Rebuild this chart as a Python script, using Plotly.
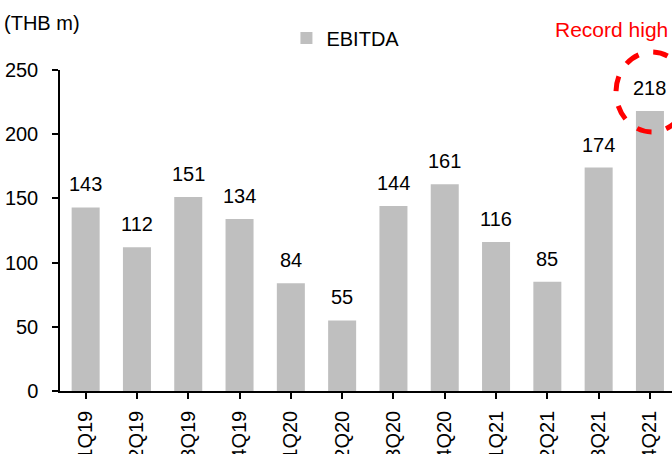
import plotly.graph_objects as go

quarters = ["1Q19", "2Q19", "3Q19", "4Q19", "1Q20", "2Q20",
            "3Q20", "4Q20", "1Q21", "2Q21", "3Q21", "4Q21"]
ebitda = [143, 112, 151, 134, 84, 55, 144, 161, 116, 85, 174, 218]
y_ticks = [0, 50, 100, 150, 200, 250]

FONT = "Arial, Liberation Sans, sans-serif"
BAR_GRAY = "#BFBFBF"

fig = go.Figure()
fig.add_trace(go.Bar(
    x=list(range(len(quarters))),
    y=ebitda,
    name="EBITDA",
    marker=dict(color=BAR_GRAY, line=dict(width=0)),
))

# value labels above each bar
for i, v in enumerate(ebitda):
    fig.add_annotation(x=i, y=v, text=str(v), showarrow=False,
                       xref="x", yref="y", yanchor="bottom", yshift=10,
                       font=dict(family=FONT, size=20, color="black"))

fig.add_annotation(text="(THB m)", xref="paper", yref="paper",
                   x=-0.094, y=1.146, xanchor="left", yanchor="middle",
                   showarrow=False, font=dict(family=FONT, size=20, color="black"))
fig.add_annotation(text="Record high", xref="paper", yref="paper",
                   x=0.806, y=1.125, xanchor="left", yanchor="middle",
                   showarrow=False, font=dict(family=FONT, size=21, color="#FF0000"))

# dashed highlight ring around the latest quarter's label
fig.add_shape(type="circle", xref="x domain", yref="y domain",
              x0=0.9085, x1=1.026, y0=0.807, y1=1.056,
              line=dict(color="#FF0000", width=5, dash="dash"))

fig.update_layout(
    width=672, height=454,
    margin=dict(l=60, r=0, t=70, b=63, autoexpand=False),
    paper_bgcolor="white", plot_bgcolor="white",
    bargap=0.454,
    showlegend=True,
    legend=dict(x=0.37, y=1.1, xanchor="left", yanchor="middle",
                orientation="h", font=dict(family=FONT, size=20, color="black"),
                bgcolor="rgba(0,0,0,0)", itemwidth=30),
    font=dict(family=FONT, size=20, color="black"),
    xaxis=dict(
        range=[-0.5, 11.43],
        tickmode="array", tickvals=list(range(len(quarters))), ticktext=quarters,
        tickangle=-90, tickson="boundaries",
        ticks="outside", ticklen=6, tickwidth=1.5, tickcolor="black",
        ticklabelstandoff=4,
        showline=True, linecolor="black", linewidth=1.5,
        showgrid=False, zeroline=False, automargin=False,
        tickfont=dict(family=FONT, size=20, color="black"),
    ),
    yaxis=dict(
        range=[0, 250],
        tickmode="array", tickvals=y_ticks,
        ticks="outside", ticklen=6, tickwidth=1.5, tickcolor="black",
        ticklabelstandoff=10,
        showline=True, linecolor="black", linewidth=1.5,
        showgrid=False, zeroline=False, automargin=False,
        tickfont=dict(family=FONT, size=20, color="black"),
    ),
)

fig.write_html("out.html")
